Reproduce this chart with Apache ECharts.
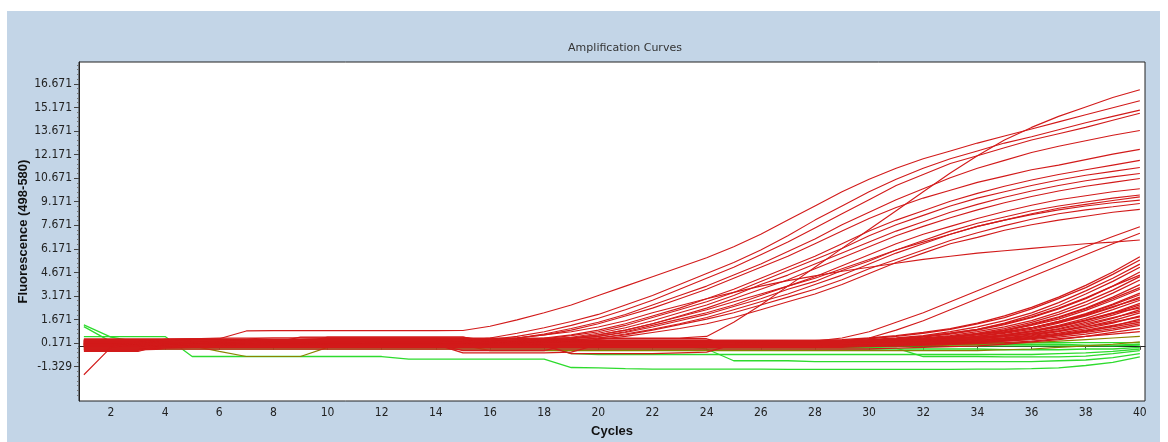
<!DOCTYPE html>
<html><head><meta charset="utf-8">
<script src="https://cdn.jsdelivr.net/npm/echarts@6/dist/echarts.min.js"></script>
<style>
html,body{margin:0;padding:0;background:#fff;width:1168px;height:442px;overflow:hidden}
#panel{position:absolute;left:7px;top:11px;width:1153px;height:431px;background:#c3d5e7}
#chart{position:absolute;left:0;top:0;width:1168px;height:442px}
</style></head><body>
<div id="panel"></div><div id="chart"></div>
<script>
const cycles = [1,2,3,4,5,6,7,8,9,10,11,12,13,14,15,16,17,18,19,20,21,22,23,24,25,26,27,28,29,30,31,32,33,34,35,36,37,38,39,40];
const xTickValues = [2,4,6,8,10,12,14,16,18,20,22,24,26,28,30,32,34,36,38,40];
const yTickValues = [-1.329,0.171,1.671,3.171,4.671,6.171,7.671,9.171,10.671,12.171,13.671,15.171,16.671];

// early-rising red curves
const curveA = [-1.84,-0.1,0.2,0.42,0.45,0.45,0.95,0.97,0.97,0.97,0.97,0.97,0.97,0.97,0.98,1.25,1.65,2.1,2.6,3.2,3.8,4.4,5.0,5.6,6.3,7.1,8.0,8.9,9.8,10.6,11.3,11.9,12.4,12.9,13.35,13.8,14.25,14.7,15.15,15.6];
const curveB = [0.1,0.1,0.15,0.2,0.2,0.25,0.3,0.3,0.3,0.3,0.3,0.3,0.3,0.3,0.35,0.5,0.8,1.15,1.55,2.0,2.6,3.2,3.9,4.6,5.3,6.1,7.0,8.0,8.9,9.8,10.6,11.3,11.9,12.4,12.9,13.3,13.75,14.2,14.6,15.0];
const curveC = [0.2,0.2,0.2,0.25,0.3,0.3,0.3,0.35,0.35,0.35,0.35,0.35,0.35,0.35,0.35,0.4,0.6,0.9,1.3,1.75,2.3,2.9,3.6,4.3,5.0,5.8,6.6,7.5,8.4,9.3,10.2,10.9,11.6,12.1,12.6,13.1,13.5,13.9,14.35,14.8];
const curveD = [0.0,0.0,0.05,0.1,0.2,0.2,0.2,0.25,0.25,0.3,0.3,0.3,0.3,0.3,0.3,0.35,0.5,0.75,1.1,1.5,2.0,2.6,3.2,3.8,4.5,5.2,6.0,6.8,7.7,8.5,9.3,10.0,10.7,11.3,11.8,12.3,12.7,13.05,13.4,13.7];
const curveE = [0.3,0.3,0.3,0.35,0.35,0.35,0.4,0.4,0.4,0.4,0.4,0.4,0.4,0.4,0.4,0.4,0.5,0.7,1.0,1.4,1.9,2.4,3.0,3.6,4.3,5.0,5.7,6.5,7.3,8.1,8.8,9.4,9.9,10.4,10.8,11.2,11.5,11.85,12.2,12.5];
const curveF = [-0.3,-0.3,-0.3,0.0,0.1,0.1,0.15,0.2,0.2,0.2,0.2,0.25,0.25,0.25,0.25,0.3,0.35,0.5,0.7,1.0,1.4,1.9,2.4,3.0,3.6,4.3,5.0,5.7,6.5,7.3,8.0,8.6,9.2,9.7,10.15,10.55,10.9,11.2,11.5,11.8];
const curveG = [0.25,0.25,0.25,0.3,0.3,0.3,0.3,0.3,0.3,0.35,0.35,0.35,0.35,0.35,0.35,0.35,0.4,0.45,0.65,0.9,1.3,1.8,2.3,2.8,3.4,4.1,4.8,5.5,6.2,7.0,7.7,8.3,8.9,9.4,9.8,10.2,10.55,10.85,11.1,11.35];
const curveH = [0.1,0.1,0.1,0.15,0.15,0.15,0.2,0.2,0.2,0.2,0.2,0.2,0.2,0.2,0.25,0.25,0.3,0.4,0.55,0.8,1.15,1.6,2.1,2.6,3.2,3.9,4.5,5.2,5.9,6.6,7.3,7.9,8.5,9.0,9.45,9.85,10.2,10.5,10.75,10.97];
const curveI = [0.4,0.4,0.4,0.4,0.45,0.45,0.45,0.5,0.5,0.5,0.5,0.5,0.5,0.5,0.45,0.45,0.45,0.45,0.5,0.7,1.0,1.4,1.9,2.4,3.0,3.6,4.2,4.9,5.6,6.3,7.0,7.6,8.15,8.65,9.1,9.5,9.85,10.15,10.4,10.65];
const curveJ = [0.0,0.0,0.0,0.1,0.1,0.15,0.15,0.15,0.15,0.2,0.2,0.2,0.2,0.2,0.2,0.25,0.3,0.35,0.45,0.6,0.9,1.3,1.7,2.1,2.6,3.2,3.8,4.4,5.1,5.8,6.5,7.1,7.6,8.1,8.55,8.95,9.3,9.55,9.8,10.0];
const curveK = [0.2,0.2,0.2,0.2,0.2,0.2,0.25,0.25,0.25,0.3,0.3,0.3,0.3,0.3,0.3,0.3,0.35,0.4,0.45,0.6,0.85,1.2,1.6,2.0,2.5,3.0,3.6,4.1,4.8,5.4,6.1,6.7,7.3,7.8,8.2,8.6,8.9,9.15,9.4,9.6];
const curveL = [-0.1,-0.1,-0.1,-0.1,0.0,0.05,0.1,0.1,0.1,0.15,0.15,0.15,0.15,0.2,0.2,0.2,0.25,0.3,0.35,0.5,0.75,1.05,1.4,1.8,2.3,2.8,3.3,3.9,4.5,5.2,5.9,6.5,7.1,7.6,8.0,8.4,8.75,9.0,9.25,9.48];
const curveM = [0.35,0.35,0.35,0.35,0.35,0.4,0.4,0.4,0.4,0.45,0.45,0.45,0.45,0.45,0.45,0.45,0.45,0.45,0.5,0.7,1.0,1.4,1.85,2.3,2.8,3.3,3.8,4.3,4.9,5.5,6.1,6.6,7.1,7.6,8.0,8.35,8.65,8.9,9.1,9.27];
const curveN = [0.15,0.15,0.15,0.15,0.15,0.2,0.2,0.2,0.2,0.2,0.2,0.2,0.2,0.2,0.2,0.25,0.25,0.3,0.35,0.5,0.7,1.0,1.35,1.7,2.1,2.6,3.1,3.6,4.2,4.9,5.5,6.1,6.7,7.2,7.65,8.05,8.4,8.65,8.85,9.06];
const curveO = [0.05,0.05,0.05,0.05,0.1,0.1,0.1,0.1,0.1,0.1,0.1,0.1,0.1,0.1,0.1,0.15,0.2,0.25,0.3,0.4,0.6,0.85,1.1,1.4,1.8,2.3,2.8,3.3,3.9,4.6,5.3,5.9,6.5,6.9,7.35,7.7,8.0,8.25,8.5,8.68];
const curveT = [0.3,0.3,0.3,0.3,0.3,0.3,0.3,0.35,0.35,0.35,0.35,0.35,0.35,0.35,0.35,0.4,0.5,0.7,0.9,1.2,1.6,2.1,2.55,3.0,3.4,3.8,4.15,4.45,4.75,5.0,5.25,5.5,5.7,5.9,6.05,6.2,6.35,6.5,6.6,6.73];
const curveS = [0.45,0.45,0.45,0.45,0.45,0.5,0.5,0.5,0.5,0.5,0.5,0.5,0.5,0.5,0.5,0.5,0.5,0.5,0.5,0.5,0.5,0.5,0.5,0.6,1.5,2.6,3.8,5.0,6.2,7.4,8.6,9.8,11.0,12.1,13.1,13.9,14.6,15.2,15.8,16.3];
// mid-rising red curves
const curveQ = [-0.36,-0.36,-0.36,0.1,0.2,0.2,0.2,0.2,0.2,0.25,0.25,0.25,0.25,0.25,0.25,0.25,0.25,0.25,0.25,0.25,0.25,0.25,0.25,0.25,0.25,0.25,0.3,0.3,0.5,0.9,1.5,2.1,2.8,3.5,4.2,4.9,5.6,6.3,6.95,7.58];
const curveR = [0.1,0.1,0.1,0.1,0.1,0.1,0.1,0.1,0.1,0.1,0.1,0.1,0.1,0.1,0.1,0.1,0.1,0.15,0.15,0.15,0.15,0.15,0.15,0.15,0.15,0.2,0.2,0.2,0.2,0.5,1.0,1.6,2.3,3.0,3.7,4.4,5.1,5.8,6.5,7.16];
// late-rising red curves
const late01 = [0.3,0.3,0.3,0.3,0.35,0.35,0.35,0.35,0.35,0.35,0.35,0.35,0.35,0.35,0.35,0.35,0.35,0.35,0.35,0.35,0.35,0.35,0.35,0.35,0.35,0.35,0.35,0.35,0.4,0.5,0.65,0.85,1.1,1.45,1.9,2.45,3.1,3.85,4.7,5.67];
const late02 = [0.0,0.0,0.05,0.1,0.15,0.2,0.2,0.2,0.2,0.2,0.25,0.25,0.25,0.25,0.25,0.25,0.25,0.25,0.25,0.3,0.3,0.3,0.3,0.3,0.3,0.3,0.3,0.3,0.35,0.45,0.6,0.8,1.05,1.4,1.8,2.35,3.0,3.7,4.55,5.46];
const late03 = [-0.2,-0.2,-0.2,-0.1,0.0,0.05,0.1,0.1,0.1,0.1,0.1,0.1,0.1,0.1,0.15,0.15,0.15,0.15,0.15,0.2,0.2,0.2,0.2,0.2,0.2,0.25,0.25,0.25,0.3,0.4,0.5,0.65,0.9,1.2,1.6,2.1,2.75,3.5,4.3,5.2];
const late04 = [0.2,0.2,0.2,0.2,0.2,0.25,0.25,0.25,0.25,0.25,0.25,0.25,0.25,0.25,0.25,0.25,0.25,0.3,0.3,0.3,0.3,0.3,0.3,0.3,0.3,0.3,0.3,0.3,0.3,0.35,0.45,0.6,0.8,1.05,1.45,1.95,2.55,3.3,4.1,5.0];
const late05 = [0.1,0.1,0.1,0.1,0.1,0.1,0.1,0.1,0.1,0.1,0.1,0.1,0.1,0.1,-0.45,-0.45,-0.45,-0.45,-0.4,0.1,0.15,0.15,0.15,0.15,0.2,0.2,0.2,0.2,0.25,0.3,0.4,0.55,0.75,1.0,1.35,1.8,2.35,3.0,3.8,4.7];
const late06 = [0.4,0.4,0.4,0.4,0.4,0.4,0.4,0.4,0.4,0.45,0.45,0.45,0.45,0.45,0.45,0.45,0.45,0.4,0.4,0.35,0.3,0.25,0.2,0.2,0.2,0.2,0.2,0.2,0.2,0.3,0.35,0.5,0.65,0.9,1.2,1.6,2.15,2.8,3.55,4.4];
const late07 = [-0.05,-0.05,-0.05,-0.05,0.0,0.0,0.05,0.05,0.05,0.05,0.1,0.1,0.1,0.1,0.15,0.15,0.15,0.2,0.2,0.2,0.2,0.25,0.25,0.25,0.25,0.3,0.3,0.3,0.3,0.3,0.35,0.45,0.6,0.8,1.1,1.5,2.0,2.6,3.35,4.19];
const late08 = [0.25,0.25,0.25,0.25,0.25,0.25,0.2,0.2,0.2,0.2,0.2,0.15,0.15,0.15,0.15,0.15,0.15,0.1,0.1,0.1,0.1,0.1,0.1,0.1,0.1,0.1,0.1,0.1,0.15,0.2,0.3,0.4,0.55,0.75,1.0,1.4,1.85,2.4,3.1,3.9];
const late09 = [0.15,0.15,0.15,0.15,0.15,0.15,0.15,0.15,0.15,0.55,0.55,0.55,0.55,0.55,0.55,0.2,0.2,0.2,0.2,0.2,0.2,0.2,0.2,0.2,0.2,0.2,0.2,0.2,0.2,0.2,0.25,0.35,0.5,0.7,0.95,1.3,1.7,2.25,2.9,3.6];
const late10 = [0.0,0.0,0.0,0.0,0.0,0.0,0.0,0.0,0.0,0.0,0.0,0.0,0.0,0.0,0.0,0.0,0.0,0.0,-0.5,-0.5,-0.5,-0.5,-0.45,-0.4,0.1,0.1,0.1,0.1,0.1,0.15,0.2,0.3,0.45,0.6,0.85,1.15,1.55,2.05,2.65,3.36];
const late11 = [0.3,0.3,0.3,0.3,0.3,0.3,0.3,0.3,0.3,0.3,0.3,0.3,0.3,0.3,0.3,0.3,0.3,0.3,0.3,0.3,0.3,0.3,0.3,0.3,0.3,0.3,0.3,0.3,0.3,0.3,0.3,0.35,0.45,0.6,0.8,1.05,1.45,1.9,2.45,3.1];
const late12 = [-0.2,-0.2,-0.2,-0.15,-0.1,-0.1,-0.05,-0.05,0.0,0.0,0.0,0.0,0.0,0.0,0.0,0.0,0.0,0.0,0.0,0.0,0.0,0.0,0.0,0.0,0.0,0.0,0.0,0.0,0.05,0.1,0.15,0.25,0.35,0.5,0.7,0.95,1.3,1.75,2.3,2.9];
const late13 = [0.2,0.2,0.2,0.2,0.2,0.2,0.2,0.2,0.55,0.55,0.55,0.55,0.55,0.55,0.55,0.3,0.3,0.25,0.2,0.2,0.2,0.2,0.2,0.2,0.2,0.2,0.2,0.2,0.2,0.2,0.25,0.3,0.4,0.5,0.7,0.9,1.2,1.6,2.1,2.7];
const late14 = [0.1,0.1,0.1,0.1,0.1,0.1,0.1,0.1,0.1,0.1,0.1,0.1,0.1,0.1,-0.3,-0.3,-0.3,-0.3,0.1,0.1,0.1,0.1,0.1,0.1,0.1,0.1,0.1,0.1,0.1,0.1,0.15,0.2,0.3,0.45,0.6,0.8,1.1,1.5,1.95,2.5];
const late15 = [-0.1,-0.1,-0.1,-0.1,-0.1,-0.05,-0.05,-0.05,-0.05,-0.05,0.0,0.0,0.0,0.0,0.0,0.0,0.0,0.0,0.0,0.0,0.0,0.0,0.0,0.0,0.0,0.0,0.0,0.0,0.0,0.05,0.1,0.15,0.25,0.35,0.5,0.7,0.95,1.3,1.75,2.3];
const late16 = [0.25,0.25,0.25,0.25,0.2,0.2,0.2,0.2,0.2,0.2,0.2,0.2,0.2,0.2,0.2,0.2,0.2,0.2,0.2,0.2,0.2,0.2,0.2,0.2,0.2,0.2,0.2,0.2,0.2,0.2,0.2,0.25,0.3,0.4,0.5,0.65,0.9,1.2,1.6,2.1];
const late17 = [0.15,0.15,0.15,0.1,0.1,0.1,0.1,0.1,0.1,0.1,0.1,0.1,0.1,0.1,0.1,0.1,0.1,0.1,0.1,0.1,0.1,0.1,0.1,0.1,0.1,0.1,0.1,0.1,0.1,0.1,0.1,0.15,0.2,0.3,0.45,0.6,0.8,1.1,1.45,1.9];
const late18 = [-0.15,-0.15,-0.15,-0.1,-0.1,-0.1,-0.1,-0.1,-0.1,-0.1,-0.1,-0.1,-0.1,-0.1,-0.1,-0.1,-0.1,-0.1,-0.1,-0.1,-0.1,-0.1,-0.1,-0.1,-0.1,-0.1,-0.1,-0.1,-0.1,-0.05,0.0,0.05,0.1,0.2,0.3,0.45,0.65,0.9,1.25,1.7];
const late19 = [0.05,0.05,0.05,0.05,0.0,0.0,0.0,0.0,0.0,0.0,0.0,0.0,0.0,0.0,0.0,0.0,0.0,0.0,0.0,0.0,0.0,0.0,0.0,0.0,0.0,0.0,0.0,0.0,0.0,0.0,0.05,0.1,0.15,0.25,0.35,0.5,0.7,0.95,1.2,1.5];
const late20 = [0.35,0.35,0.3,0.25,0.2,0.15,0.1,0.1,0.1,0.1,0.1,0.1,0.1,0.1,0.1,0.1,0.1,0.1,0.1,0.1,0.1,0.1,0.1,0.1,0.1,0.1,0.1,0.1,0.1,0.1,0.1,0.1,0.15,0.2,0.3,0.4,0.55,0.75,1.0,1.3];
const late21 = [-0.25,-0.25,-0.25,-0.2,-0.2,-0.2,-0.2,-0.2,-0.2,-0.2,-0.2,-0.2,-0.2,-0.2,-0.2,-0.2,-0.2,-0.2,-0.2,-0.2,-0.2,-0.2,-0.2,-0.2,-0.2,-0.2,-0.2,-0.2,-0.2,-0.2,-0.15,-0.1,-0.05,0.0,0.1,0.25,0.4,0.6,0.85,1.1];
const late22 = [0.0,0.0,0.0,0.0,0.0,0.0,0.0,0.0,0.0,0.0,0.0,0.0,0.0,0.0,0.0,0.0,0.0,0.0,0.0,0.45,0.45,0.45,0.45,0.45,0.0,0.0,0.0,0.0,0.0,0.0,0.0,0.05,0.1,0.15,0.2,0.3,0.45,0.6,0.75,0.9];
const late23 = [0.25,0.25,0.25,0.25,0.25,0.25,0.25,0.25,0.25,0.25,0.25,0.25,0.25,0.25,0.25,0.25,0.25,0.25,0.25,0.25,0.25,0.25,0.25,0.25,0.25,0.25,0.25,0.25,0.3,0.35,0.45,0.6,0.8,1.05,1.4,1.85,2.4,3.05,3.8,4.5];
const late24 = [0.15,0.15,0.15,0.15,0.15,0.15,0.15,0.15,0.15,0.15,0.15,0.15,0.15,0.15,0.15,0.15,0.15,0.15,0.15,0.15,0.15,0.15,0.15,0.15,0.15,0.15,0.15,0.15,0.15,0.2,0.3,0.4,0.55,0.75,1.0,1.35,1.8,2.35,3.0,3.7];
const late25 = [0.05,0.05,0.05,0.05,0.05,0.05,0.05,0.05,0.05,0.05,0.05,0.05,0.05,0.05,0.05,0.05,0.05,0.05,0.05,0.05,0.05,0.05,0.05,0.05,0.05,0.05,0.05,0.05,0.1,0.15,0.2,0.3,0.45,0.6,0.85,1.15,1.55,2.0,2.6,3.25];
const late26 = [0.35,0.35,0.35,0.35,0.35,0.35,0.35,0.35,0.35,0.35,0.35,0.35,0.35,0.35,0.35,0.35,0.35,0.35,0.35,0.35,0.35,0.35,0.35,0.35,0.35,0.35,0.35,0.35,0.35,0.35,0.4,0.45,0.55,0.7,0.9,1.15,1.5,1.95,2.5,3.0];
const late27 = [-0.05,-0.05,-0.05,-0.05,-0.05,-0.05,-0.05,-0.05,-0.05,-0.05,-0.05,-0.05,-0.05,-0.05,-0.05,-0.05,-0.05,-0.05,-0.05,-0.05,-0.05,-0.05,-0.05,-0.05,-0.05,-0.05,-0.05,-0.05,0.0,0.05,0.1,0.2,0.3,0.45,0.65,0.9,1.2,1.6,2.05,2.6];
const late28 = [0.2,0.2,0.2,0.2,0.2,0.2,0.2,0.2,0.2,0.2,0.2,0.2,0.2,0.2,0.2,0.2,0.2,0.2,0.2,0.2,0.2,0.2,0.2,0.2,0.2,0.2,0.2,0.2,0.2,0.2,0.25,0.3,0.4,0.55,0.7,0.95,1.25,1.65,2.1,2.4];
const late29 = [0.1,0.1,0.1,0.1,0.1,0.1,0.1,0.1,0.1,0.1,0.1,0.1,0.1,0.1,0.1,0.1,0.1,0.1,0.1,0.1,0.1,0.1,0.1,0.1,0.1,0.1,0.1,0.1,0.1,0.15,0.2,0.25,0.35,0.45,0.6,0.8,1.05,1.4,1.8,2.2];
const late30 = [0.3,0.3,0.3,0.3,0.3,0.3,0.3,0.3,0.3,0.3,0.3,0.3,0.3,0.3,0.3,0.3,0.3,0.3,0.3,0.3,0.3,0.3,0.3,0.3,0.3,0.3,0.3,0.3,0.3,0.3,0.3,0.35,0.4,0.5,0.6,0.75,0.95,1.2,1.5,1.85];
const late31 = [0.0,0.0,0.0,0.0,0.0,0.0,0.0,0.0,0.0,0.0,0.0,0.0,0.0,0.0,0.0,0.0,0.0,0.0,0.0,0.0,0.0,0.0,0.0,0.0,0.0,0.0,0.0,0.0,0.0,0.05,0.1,0.15,0.2,0.3,0.4,0.55,0.75,1.0,1.3,1.6];
const late32 = [0.15,0.15,0.15,0.15,0.15,0.15,0.15,0.15,0.15,0.15,0.15,0.15,0.15,0.15,0.15,0.15,0.15,0.15,0.15,0.15,0.15,0.15,0.15,0.15,0.15,0.15,0.15,0.15,0.15,0.15,0.15,0.2,0.25,0.3,0.4,0.5,0.65,0.85,1.1,1.4];
// olive curves
const olive1 = [0.3,0.3,0.3,0.42,0.0,-0.35,-0.68,-0.68,-0.68,-0.1,0.0,0.0,0.0,0.0,0.0,0.0,0.0,0.0,0.0,0.0,0.0,0.0,0.0,0.0,0.0,0.0,0.0,0.0,0.0,0.0,0.0,0.0,0.05,0.1,0.15,0.2,0.3,0.4,0.5,0.6];
const olive2 = [0.05,0.05,0.05,0.05,0.05,0.05,0.05,0.05,0.05,0.05,0.05,0.05,0.05,0.05,0.05,-0.3,-0.3,-0.3,-0.3,-0.3,-0.3,-0.3,-0.3,-0.3,-0.3,-0.3,-0.3,-0.3,-0.3,-0.3,-0.3,-0.3,-0.3,-0.3,-0.25,-0.2,-0.1,0.0,0.1,0.25];
// green (negative) curves
const green1 = [1.33,0.55,0.25,0.2,0.2,0.15,0.1,0.1,0.1,0.1,0.05,0.05,0.05,0.05,0.05,0.0,0.0,0.0,0.0,0.0,0.0,0.0,0.0,0.0,0.0,0.0,0.0,0.0,0.0,0.0,0.0,0.0,0.0,0.0,0.0,0.0,0.0,0.0,0.0,0.05];
const green2 = [1.22,0.27,0.2,0.2,0.2,0.2,0.2,0.2,0.2,0.2,0.2,0.2,0.2,0.2,0.2,0.2,0.2,0.2,0.2,0.2,0.2,0.2,0.2,0.2,0.2,0.2,0.2,0.2,0.2,0.2,0.2,0.2,0.2,0.2,0.2,0.2,0.2,0.2,0.2,0.2];
const green3 = [0.59,0.59,0.59,0.59,-0.68,-0.68,-0.68,-0.68,-0.68,-0.68,-0.68,-0.68,-0.85,-0.85,-0.85,-0.85,-0.85,-0.85,-1.38,-1.4,-1.45,-1.48,-1.48,-1.48,-1.48,-1.48,-1.5,-1.5,-1.5,-1.5,-1.5,-1.5,-1.5,-1.48,-1.48,-1.45,-1.4,-1.25,-1.05,-0.7];
const green4 = [0.0,0.0,0.0,0.0,0.0,0.0,0.0,0.0,0.0,0.0,0.0,0.0,0.0,0.0,0.0,0.0,0.0,0.0,0.0,0.0,0.0,0.0,0.0,-0.2,-0.95,-0.95,-0.95,-1.0,-1.0,-1.0,-1.0,-1.0,-1.0,-1.0,-1.0,-1.0,-0.95,-0.9,-0.75,-0.5];
const green5 = [-0.1,-0.1,-0.1,-0.1,-0.1,-0.1,-0.1,-0.1,-0.1,-0.1,-0.1,-0.1,-0.1,-0.1,-0.1,-0.1,-0.1,-0.1,-0.1,-0.1,-0.1,-0.1,-0.1,-0.1,-0.1,-0.1,-0.1,-0.1,-0.1,-0.1,-0.15,-0.68,-0.68,-0.68,-0.7,-0.7,-0.7,-0.65,-0.5,-0.3];
const green6 = [-0.2,-0.2,-0.2,-0.2,-0.2,-0.2,-0.2,-0.2,-0.2,-0.2,-0.2,-0.2,-0.2,-0.2,-0.2,-0.2,-0.2,-0.2,-0.2,-0.2,-0.2,-0.2,-0.2,-0.2,-0.2,-0.2,-0.2,-0.2,-0.2,-0.2,-0.2,-0.2,-0.2,-0.2,-0.25,-0.25,-0.25,-0.2,-0.2,-0.1];
const green7 = [0.1,0.1,0.1,0.1,0.1,0.1,0.1,0.1,0.1,0.1,0.1,0.1,0.1,0.1,0.1,0.1,0.1,0.1,0.1,0.1,0.1,0.1,0.1,0.1,0.1,0.1,0.1,0.1,0.1,0.1,0.1,0.1,0.1,0.1,0.1,0.1,0.1,0.05,0.05,0.1];
const green8 = [0.1,0.1,0.1,0.1,0.1,0.1,0.1,0.1,0.1,0.1,0.1,0.1,0.1,0.1,0.1,0.1,0.1,0.1,-0.5,-0.55,-0.55,-0.55,-0.55,-0.55,-0.55,-0.55,-0.55,-0.55,-0.55,-0.55,-0.55,-0.55,-0.55,-0.55,-0.55,-0.55,-0.5,-0.45,-0.35,-0.2];

const greenCurves = [green1,green2,green3,green4,green5,green6,green7,green8];
const oliveCurves = [olive1,olive2];
const lateCurves = [late01,late02,late03,late04,late05,late06,late07,late08,late09,late10,late11,late12,late13,late14,late15,late16,late17,late18,late19,late20,late21,late22,late23,late24,late25,late26,late27,late28,late29,late30,late31,late32];
const earlyCurves = [curveQ,curveR,curveT,curveO,curveN,curveM,curveL,curveK,curveJ,curveI,curveH,curveG,curveF,curveE,curveD,curveC,curveB,curveS,curveA];

const RED = '#d21a1a', GREEN = '#2edb2e', OLIVE = '#8a8400';
function mk(vals, color, w) {
  return {
    type: 'line', data: vals.map((v, i) => [cycles[i], v]), showSymbol: false, symbol: 'none',
    lineStyle: { color: color, width: w }, itemStyle: { color: color },
    silent: true, animation: false, emphasis: { disabled: true }, clip: true
  };
}
const series = [];
greenCurves.forEach(c => series.push(mk(c, GREEN, 1.3)));
oliveCurves.forEach(c => series.push(mk(c, OLIVE, 1.2)));
lateCurves.forEach(c => series.push(mk(c, RED, 1.3)));
earlyCurves.forEach(c => series.push(mk(c, RED, 1.1)));

// minor tick positions derived from the major tick labels
const yMinor = [];
yTickValues.forEach(m => { [0.3, 0.6, 0.9, 1.2].forEach(d => { const v = m + d; if (v < 18) yMinor.push(v); }); });
[0.3, 0.6, 0.9, 1.2, 1.5, 1.8].forEach(d => yMinor.push(yTickValues[0] - d));

const labelFont = "'Liberation Sans Narrow','DejaVu Sans Condensed','Liberation Sans',sans-serif";
const chart = echarts.init(document.getElementById('chart'), null, { renderer: 'canvas' });
chart.setOption({
  backgroundColor: 'transparent',
  animation: false,
  title: {
    text: 'Amplification Curves', left: 620, top: 38, textAlign: 'center',
    textStyle: { fontFamily: 'DejaVu Sans', fontSize: 11, fontWeight: 'normal', color: '#333' }
  },
  grid: { left: 79, right: 23, top: 62, bottom: 41, show: true, backgroundColor: '#fff', borderColor: '#222', borderWidth: 1, containLabel: false, outerBoundsMode: 'none' },
  xAxis: {
    type: 'value', min: 0.82, max: 40.19,
    name: 'Cycles', nameLocation: 'middle', nameGap: 24, nameMoveOverlap: false,
    nameTextStyle: { fontFamily: 'Liberation Sans', fontWeight: 'bold', fontSize: 13, color: '#111' },
    axisLine: { show: true, lineStyle: { color: '#222' } },
    axisTick: { show: true, length: 4, lineStyle: { color: '#444' }, customValues: xTickValues },
    axisLabel: { customValues: xTickValues, fontFamily: labelFont, fontSize: 12, color: '#222', margin: 6 },
    splitLine: { show: false }
  },
  yAxis: [{
    type: 'value', min: -3.51, max: 18.06,
    name: 'Fluorescence (498-580)', nameLocation: 'middle', nameGap: 49, nameRotate: 90, nameMoveOverlap: false,
    nameTextStyle: { fontFamily: 'Liberation Sans', fontWeight: 'bold', fontSize: 13, color: '#111' },
    axisLine: { show: true, lineStyle: { color: '#222' } },
    axisTick: { show: true, length: 5, lineStyle: { color: '#444' }, customValues: yTickValues },
    axisLabel: { customValues: yTickValues, formatter: v => v.toFixed(3), fontFamily: labelFont, fontSize: 12, color: '#222', margin: 7 },
    splitLine: { show: false }
  }, {
    type: 'value', min: -3.51, max: 18.06, position: 'left',
    axisLine: { show: false },
    axisTick: { show: true, length: 2, lineStyle: { color: '#777' }, customValues: yMinor },
    axisLabel: { show: false },
    splitLine: { show: false }
  }],
  series: series
});
</script>
</body></html>
